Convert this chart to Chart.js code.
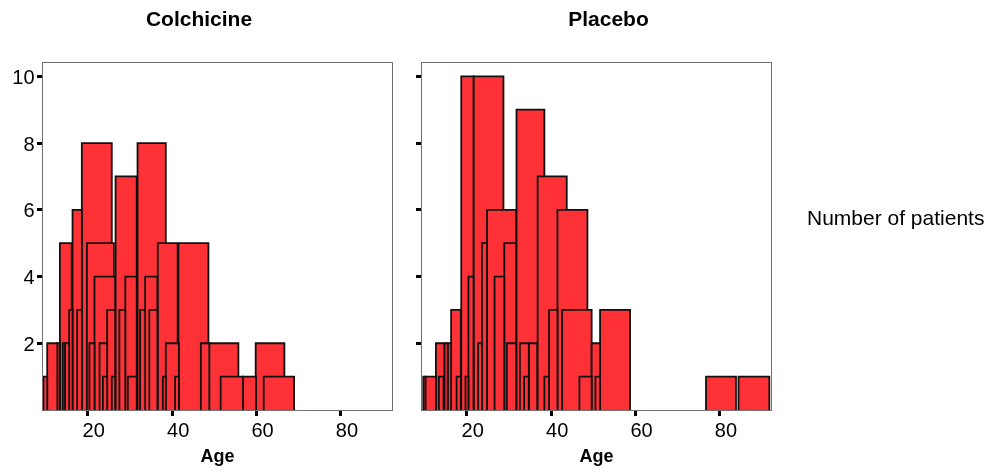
<!DOCTYPE html>
<html>
<head>
<meta charset="utf-8">
<title>Age by treatment</title>
<script src="https://cdn.jsdelivr.net/npm/chart.js@4.4.1/dist/chart.umd.min.js"></script>
<style>
  body { margin: 0; background: #fff; width: 994px; height: 472px; position: relative; overflow: hidden;
         font-family: "Liberation Sans", Arial, sans-serif; }
  canvas { position: absolute; top: 0; }
  #colchicineChart { left: 0; }
  #placeboChart { left: 400px; }
  #countLabel { position: absolute; left: 807px; top: 207px; font-size: 21px; line-height: 21px;
                white-space: nowrap; color: #000; }
</style>
</head>
<body>
<canvas id="colchicineChart" width="400" height="472"></canvas>
<canvas id="placeboChart" width="417" height="472"></canvas>
<div id="countLabel">Number of patients</div>
<script>
// each bar: age from .. to, number of patients
const colchicineFrom = [9.5, 10.4, 12.8, 13.4, 14.1, 14.6, 15.6, 16.4, 17.5, 18.6, 19.8, 20.4, 21.6, 22.8, 23.6, 24.6, 25.7, 26.6,
  27.5, 28.9, 29.5, 31.8, 32.4, 33.6, 34.6, 36.6, 37.8, 38.5, 40.7, 41.5, 46.8, 48.8, 51.5, 56.8, 59.8, 61.7];
const colchicineTo = [10.4, 12.8, 13.4, 16.2, 14.6, 15.6, 16.4, 18.6, 18.6, 25.7, 26.2, 21.6, 26.5, 24.6, 24.6, 26.5, 26.5, 31.6,
  28.9, 31.6, 31.6, 38.5, 33.6, 36.5, 36.5, 41.3, 38.5, 41.6, 41.6, 48.6, 48.8, 55.7, 56.8, 59.9, 66.6, 68.9];
const colchicineCount = [1, 2, 2, 5, 2, 2, 3, 6, 3, 8, 5, 2, 4, 2, 1, 3, 1, 7,
  3, 4, 1, 8, 3, 4, 3, 5, 1, 2, 1, 5, 2, 2, 1, 1, 2, 1];

const placeboFrom = [9.7, 10.2, 12.7, 13.4, 14.7, 15.5, 16.3, 17.6, 18.7, 19.7, 20.4, 21.6, 22.7, 23.6, 24.8, 26.6, 28.9,
  29.5, 31.8, 32.6, 33.6, 34.7, 36.8, 38.4, 39.5, 41.5, 42.6, 46.7, 49.6, 50.5, 51.6, 76.7, 84.4];
const placeboTo = [10.2, 12.7, 14.7, 14.5, 15.5, 16.3, 18.6, 18.6, 21.6, 20.4, 21.6, 28.7, 23.6, 24.8, 31.7, 28.9, 31.7,
  31.7, 38.4, 34.7, 34.7, 36.7, 43.7, 39.5, 41.5, 48.6, 49.6, 49.6, 51.6, 51.6, 58.7, 83.8, 91.7];
const placeboCount = [1, 1, 2, 1, 2, 2, 3, 1, 10, 1, 4, 10, 2, 5, 6, 4, 5,
  2, 9, 2, 1, 2, 7, 1, 3, 6, 3, 1, 2, 1, 3, 1, 1];

const ageTicks = [20, 40, 60, 80];
const countTicks = [2, 4, 6, 8, 10];

const FONT = '"Liberation Sans", Arial, sans-serif';
const BAR_FILL = '#fe3236';
const BAR_EDGE = '#111111';

// gray box round the plot area
const framePlugin = {
  id: 'frame',
  afterDatasetsDraw(chart) {
    const a = chart.chartArea;
    const ctx = chart.ctx;
    ctx.save();
    ctx.strokeStyle = '#707070';
    ctx.lineWidth = 1;
    ctx.strokeRect(a.left - 0.5, a.top - 0.5, a.right - a.left + 1, a.bottom - a.top + 1);
    ctx.restore();
  }
};

function makeHistogram(canvasId, title, from, to, counts, opts) {
  // one filled outline per bar; taller bars are drawn first
  const datasets = counts.map((c, i) => ({
    data: [{x: from[i], y: 0}, {x: from[i], y: c}, {x: to[i], y: c}, {x: to[i], y: 0}],
    fill: 'origin',
    backgroundColor: BAR_FILL,
    borderColor: BAR_EDGE,
    borderWidth: 1.8,
    borderJoinStyle: 'miter',
    pointRadius: 0,
    tension: 0,
    order: c
  }));

  const scales = {
    x: {
      type: 'linear', min: 9.4, max: 92.1,
      afterBuildTicks: (s) => { s.ticks = ageTicks.map(v => ({value: v})); },
      afterFit: (s) => { s.height = 62; },
      border: {display: false},
      grid: {drawOnChartArea: false, drawTicks: true, tickLength: 6, tickWidth: 3, tickColor: '#000'},
      ticks: {color: '#000', font: {family: FONT, size: 20}, padding: 3, labelOffset: 6, maxRotation: 0},
      title: {display: true, text: 'Age', color: '#000', font: {family: FONT, size: 18, weight: 'bold'},
              padding: {top: 0, bottom: 4}}
    },
    y: {
      type: 'linear', min: 0, max: 10.4,
      afterBuildTicks: (s) => { s.ticks = countTicks.map(v => ({value: v})); },
      afterFit: (s) => { s.width = opts.yWidth; },
      border: {display: false},
      grid: {drawOnChartArea: false, drawTicks: true, tickLength: 6, tickWidth: 3, tickColor: '#000'},
      ticks: {
        color: '#000', font: {family: FONT, size: 20}, padding: 2.5, labelOffset: 2,
        callback: (v) => opts.showLabels ? v : ''
      }
    }
  };
  if (opts.rightSpace) {
    // empty box so the title centres like the original
    scales.spacer = {
      type: 'linear', position: 'right', display: true,
      afterFit: (s) => { s.width = opts.rightSpace; },
      border: {display: false}, grid: {display: false}, ticks: {display: false}
    };
  }

  return new Chart(document.getElementById(canvasId), {
    type: 'line',
    data: {datasets},
    options: {
      responsive: false,
      animation: false,
      events: [],
      layout: {padding: opts.padding},
      scales,
      plugins: {
        legend: {display: false},
        tooltip: {enabled: false},
        title: {
          display: true, text: title, color: '#000',
          font: {family: FONT, size: 21, weight: 'bold'},
          padding: {top: 8, bottom: 29.8}
        }
      }
    },
    plugins: [framePlugin]
  });
}

document.addEventListener('DOMContentLoaded', function() {
  makeHistogram('colchicineChart', 'Colchicine', colchicineFrom, colchicineTo, colchicineCount,
    {yWidth: 37, showLabels: true, padding: {left: 6, right: 8, top: 0, bottom: 0}});
  makeHistogram('placeboChart', 'Placebo', placeboFrom, placeboTo, placeboCount,
    {yWidth: 22, showLabels: false, rightSpace: 46, padding: {left: 0, right: 0, top: 0, bottom: 0}});
});
</script>
</body>
</html>
